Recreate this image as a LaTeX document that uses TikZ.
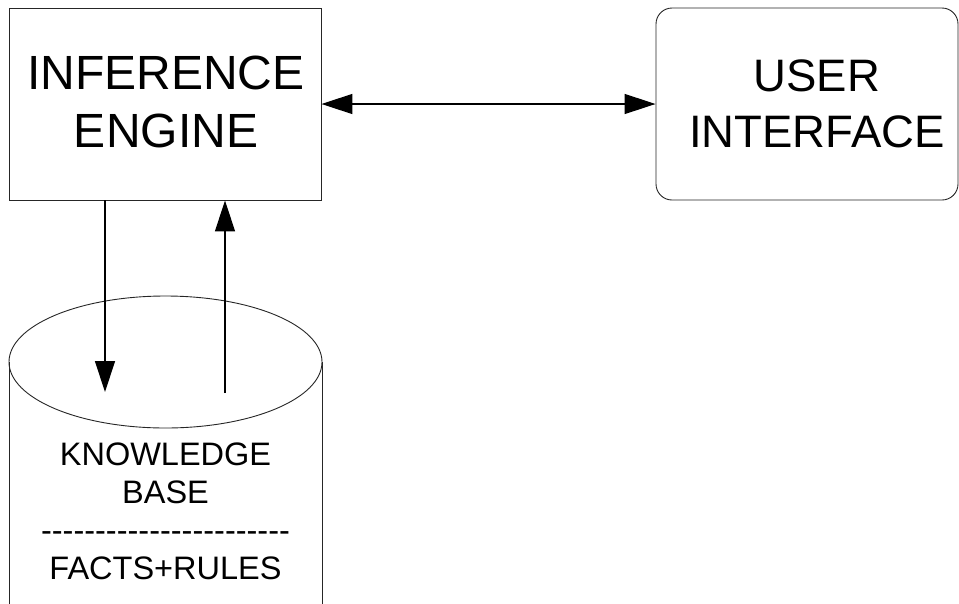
\documentclass[tikz,border=0pt]{standalone}
\usepackage{fontspec}
\setmainfont{Liberation Sans}
% same face without the TeX dash ligatures, for the separator row
\newfontfamily\plainsans{Liberation Sans}
\usetikzlibrary{arrows.meta}
\begin{document}
\begin{tikzpicture}[x=1pt,y=-1pt,
  outline/.style={draw=black!85,line width=0.9pt},
  bigtext/.style={font=\fontsize{48}{58}\selectfont,align=center,inner sep=0pt},
  uitext/.style={font=\fontsize{45.5}{56}\selectfont,align=center,inner sep=0pt},
  kbtext/.style={font=\fontsize{32.5}{38}\selectfont,inner sep=0pt,anchor=base},
  flow/.style={line width=1.3pt,-{Triangle[length=31pt,width=20pt]}},
  flowboth/.style={line width=1.3pt,{Triangle[length=31pt,width=20pt]}-{Triangle[length=31pt,width=20pt]}}]
\useasboundingbox (0,0) rectangle (959,603);

% Inference engine box
\node[outline,minimum width=312pt,minimum height=192pt,inner sep=0pt] (ie) at (165,104) {};
\node[bigtext] (ietext) at (166,101.5) {INFERENCE\\ENGINE};

% User interface box
\node[outline,rounded corners=16pt,minimum width=302pt,minimum height=192pt,inner sep=0pt] (ui) at (807,104) {};
\node[uitext] (uitext) at (817,104) {USER\\INTERFACE};

% Knowledge base drum (runs past the lower edge)
\draw[outline] (9,362) -- (9,605);
\draw[outline] (322,362) -- (322,605);
\draw[outline] (165.5,362) ellipse [x radius=156.5, y radius=66];
\node[kbtext] (kb1) at (165.5,465) {KNOWLEDGE};
\node[kbtext] (kb2) at (165.5,503) {BASE};
\node[kbtext] (kb3) at (165.5,541.5) {\plainsans -----------------------};
\node[kbtext] (kb4) at (165.5,579) {FACTS+RULES};

% Connectors
\draw[flowboth] (ie.east) -- (ui.west);
\coordinate (kbin) at (105,392);
\coordinate (kbout) at (225,393);
\draw[flow] (ie.south -| kbin) -- (kbin);
\draw[flow] (kbout) -- (ie.south -| kbout);
\end{tikzpicture}
\end{document}
